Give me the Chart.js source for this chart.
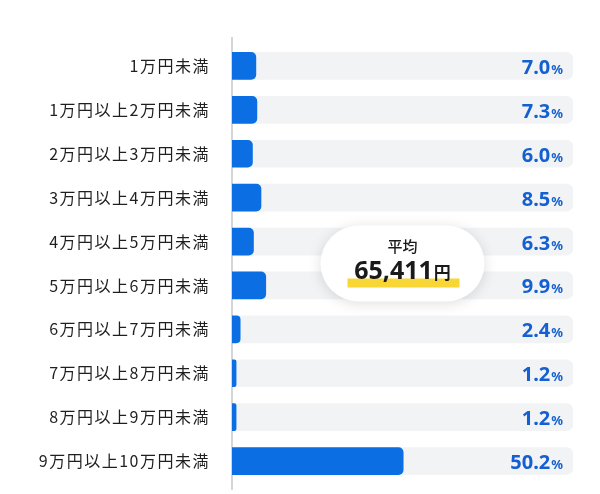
<!DOCTYPE html>
<html lang="ja">
<head>
<meta charset="utf-8">
<script src="https://cdn.jsdelivr.net/npm/chart.js@4/dist/chart.umd.min.js"></script>
<style>
  html, body { margin: 0; padding: 0; background: #fff; }
</style>
</head>
<body>
<canvas id="chart" width="600" height="494"></canvas>
<script>
const labels = ['1万円未満', '1万円以上2万円未満', '2万円以上3万円未満', '3万円以上4万円未満', '4万円以上5万円未満',
                '5万円以上6万円未満', '6万円以上7万円未満', '7万円以上8万円未満', '8万円以上9万円未満', '9万円以上10万円未満'];
const shares = [7.0, 7.3, 6.0, 8.5, 6.3, 9.9, 2.4, 1.2, 1.2, 50.2];
const trackMax = [100, 100, 100, 100, 100, 100, 100, 100, 100, 100];
const avgLabel = '平均';
const avgValue = '65,411';
const avgUnit = '円';

// axis line a bit longer than the plot area
const axisLine = {
  id: 'axisLine',
  beforeDatasetsDraw(chart) {
    const { ctx, chartArea } = chart;
    ctx.save();
    ctx.strokeStyle = '#c8c8c8';
    ctx.lineWidth = 1.5;
    ctx.beginPath();
    ctx.moveTo(chartArea.left, chartArea.top - 7);
    ctx.lineTo(chartArea.left, chartArea.bottom + 7);
    ctx.stroke();
    ctx.restore();
  }
};

// percent labels at the right end of each track
const valueLabels = {
  id: 'valueLabels',
  afterDatasetsDraw(chart) {
    const { ctx, chartArea, scales } = chart;
    ctx.save();
    ctx.fillStyle = '#1560d0';
    ctx.textBaseline = 'alphabetic';
    shares.forEach((v, i) => {
      const y = scales.y.getPixelForValue(i) + 8;
      let x = chartArea.right - 10;
      ctx.textAlign = 'right';
      ctx.font = 'bold 13px "Noto Sans"';
      ctx.fillText('%', x, y);
      x -= ctx.measureText('%').width + 1;
      ctx.font = 'bold 20px "Noto Sans"';
      ctx.fillText(v.toFixed(1), x, y);
    });
    ctx.restore();
  }
};

// average bubble
const avgBubble = {
  id: 'avgBubble',
  afterDatasetsDraw(chart) {
    const { ctx, scales } = chart;
    const cx = scales.x.getPixelForValue(50);
    const cy = (scales.y.getPixelForValue(4) + scales.y.getPixelForValue(5)) / 2;
    const w = 164, h = 76;
    ctx.save();
    ctx.shadowColor = 'rgba(0,0,0,0.13)';
    ctx.shadowBlur = 14;
    ctx.shadowOffsetY = 2;
    ctx.fillStyle = '#fff';
    ctx.beginPath();
    ctx.roundRect(cx - w / 2, cy - h / 2, w, h, h / 2);
    ctx.fill();
    ctx.restore();

    ctx.save();
    ctx.fillStyle = '#f7d635';
    ctx.fillRect(cx - 55, cy + 15, 112, 9);
    ctx.fillStyle = '#1a1a1a';
    ctx.textAlign = 'center';
    ctx.textBaseline = 'alphabetic';
    ctx.font = '500 15px "Noto Sans CJK JP"';
    ctx.fillText(avgLabel, cx, cy - 12);
    ctx.font = 'bold 25px "Noto Sans"';
    const nw = ctx.measureText(avgValue).width;
    ctx.font = 'bold 17px "Noto Sans CJK JP"';
    const uw = ctx.measureText(avgUnit).width;
    const left = cx - (nw + uw + 1) / 2;
    ctx.textAlign = 'left';
    ctx.font = 'bold 25px "Noto Sans"';
    ctx.fillText(avgValue, left, cy + 15);
    ctx.font = 'bold 17px "Noto Sans CJK JP"';
    ctx.fillText(avgUnit, left + nw + 1, cy + 15);
    ctx.restore();
  }
};

const spacing = {
  id: 'spacing',
  beforeDraw(chart) { chart.ctx.letterSpacing = '1.5px'; },
  afterDraw(chart) { chart.ctx.letterSpacing = '0px'; },
  beforeDatasetsDraw(chart) { chart.ctx.letterSpacing = '0px'; }
};

new Chart(document.getElementById('chart'), {
  type: 'bar',
  data: {
    labels: labels,
    datasets: [
      {
        data: shares,
        backgroundColor: '#0b6fe3',
        barThickness: 27,
        borderRadius: { topLeft: 0, bottomLeft: 0, topRight: 5, bottomRight: 5 },
        borderSkipped: false,
        grouped: false,
        order: 0
      },
      {
        data: trackMax,
        backgroundColor: '#f1f3f5',
        barThickness: 27,
        borderRadius: 7,
        borderSkipped: false,
        grouped: false,
        order: 1
      }
    ]
  },
  plugins: [spacing, axisLine, valueLabels, avgBubble],
  options: {
    indexAxis: 'y',
    responsive: false,
    animation: false,
    layout: { padding: { top: 44, bottom: 11, right: 27, left: 0 } },
    plugins: { legend: { display: false }, tooltip: { enabled: false } },
    scales: {
      x: {
        min: 0, max: 100,
        display: false
      },
      y: {
        grid: { display: false, drawTicks: false },
        border: { display: false },
        ticks: {
          color: '#1f1f1f',
          padding: 22,
          font: { family: '"Noto Sans CJK JP"', size: 16 }
        },
        afterFit(scale) {
          scale.width = 232;
          scale.paddingTop = 0;
          scale.paddingBottom = 0;
        }
      }
    }
  }
});
</script>
</body>
</html>
